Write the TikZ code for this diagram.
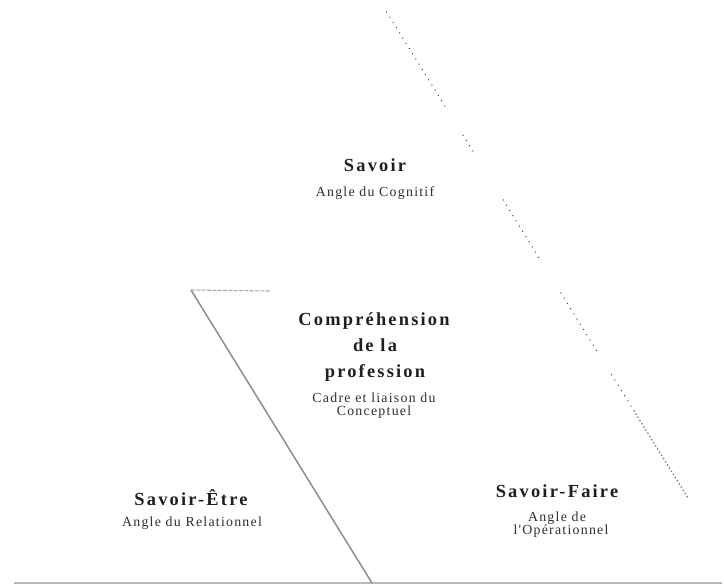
\documentclass[tikz,border=0pt]{standalone}
\usepackage{fontspec}
\setmainfont{Liberation Serif}
\newfontfamily\titlefont{Liberation Serif}[LetterSpace=12]
\newfontfamily\notefont{Liberation Serif}[LetterSpace=9]
\usetikzlibrary{calc}
\begin{document}
\begin{tikzpicture}[x=0.75pt,y=-0.75pt,
  title/.style={anchor=base,inner sep=0pt,font=\titlefont\bfseries\fontsize{13.8pt}{15pt}\selectfont,text=black!88},
  note/.style={anchor=base,inner sep=0pt,font=\notefont\fontsize{10.4pt}{12pt}\selectfont,text=black!82},
  dotline/.style={draw=black!75,line width=1pt,line cap=round,dash pattern=on 0.1pt off 4.5pt},
  dashline/.style={draw=black!50,line width=0.9pt,dash pattern=on 1.2pt off 1.6pt},
  slant/.style={draw=black!45,line width=1.1pt},
  floor/.style={draw=black!28,line width=1.6pt},
  ledge/.style={draw=black!35,line width=0.8pt,dash pattern=on 3pt off 1pt}]
\useasboundingbox (0,0) rectangle (724,586);

% frame of the triangle
\coordinate (apex) at (386,11);
\coordinate (rfoot) at (688,498);
\coordinate (ltop) at (191,290);
\coordinate (ledgeend) at (270,291);
\coordinate (lfoot) at (372,583);
\coordinate (floorL) at (14,583);
\coordinate (floorR) at (722,583);

\draw[floor] (floorL) -- (floorR);
\draw[slant] (ltop) -- (lfoot);
\draw[ledge] (ltop) -- (ledgeend);

% broken dotted right side, turning into fine dashes near the foot
\foreach \a/\b in {0.002/0.205, 0.255/0.296, 0.388/0.507, 0.579/0.706, 0.747/0.82}
  \draw[dotline] ($(apex)!\a!(rfoot)$) -- ($(apex)!\b!(rfoot)$);
\draw[dashline] ($(apex)!0.82!(rfoot)$) -- (rfoot);

% labels
\node[title] (savoir) at (375,171) {Savoir};
\node[note] (savoirsub) at (375,196) {Angle du Cognitif};

\node[title] (comp1) at (374,325) {Compréhension};
\node[title] (comp2) at (375,351) {de la};
\node[title] (comp3) at (375,377) {profession};
\node[note] (compsub1) at (374,402) {Cadre et liaison du};
\node[note] (compsub2) at (374,415) {Conceptuel};

\node[title] (etre) at (191,505) {Savoir-Être};
\node[note] (etresub) at (192,526) {Angle du Relationnel};

\node[title] (faire) at (557,497) {Savoir-Faire};
\node[note] (fairesub1) at (557,521) {Angle de};
\node[note] (fairesub2) at (561,534) {l'Opérationnel};
\end{tikzpicture}
\end{document}
